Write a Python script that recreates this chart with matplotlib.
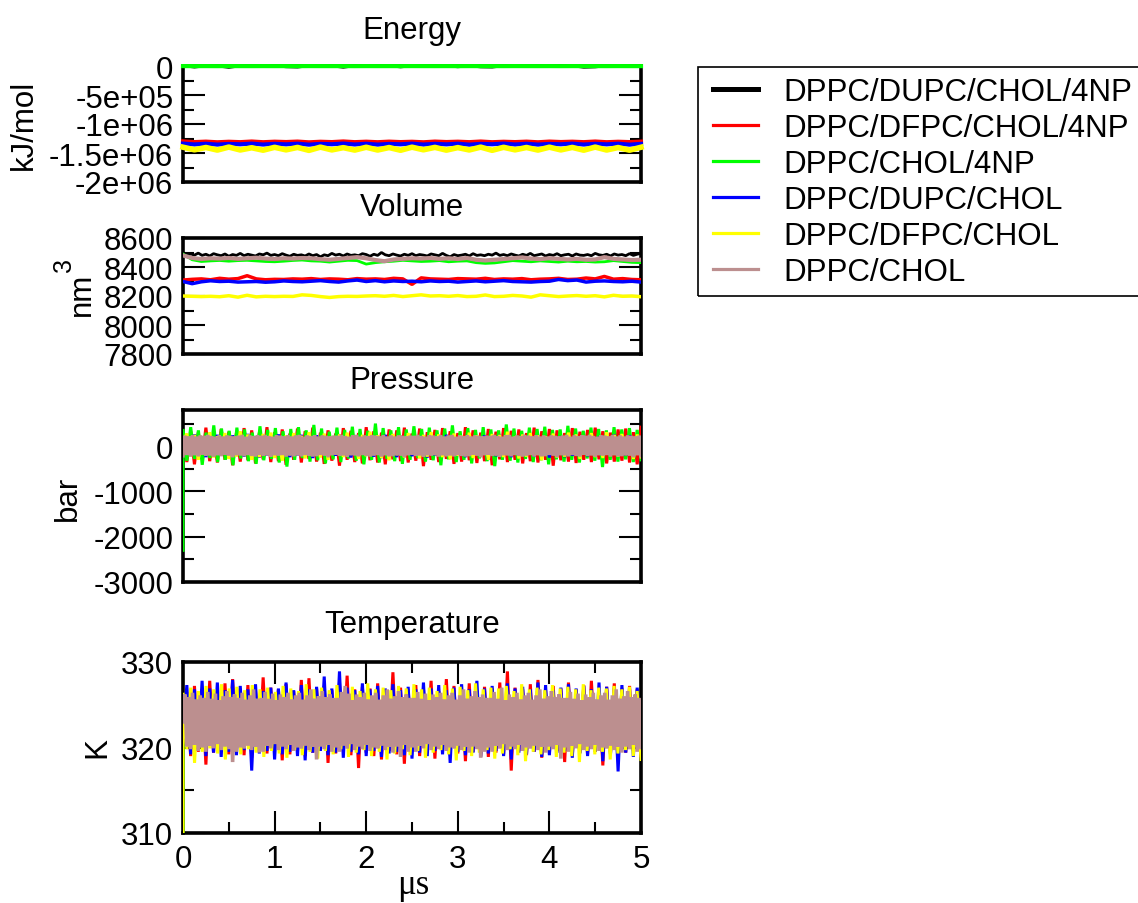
import numpy as np
import matplotlib
matplotlib.use("Agg")
import matplotlib.pyplot as plt
from matplotlib.lines import Line2D
from matplotlib.patches import Rectangle
from matplotlib.ticker import FixedLocator, FixedFormatter, MultipleLocator

plt.rcParams['font.family'] = ['Liberation Sans', 'DejaVu Sans']
plt.rcParams['axes.unicode_minus'] = False

# ---------------- data ----------------
series_names = ["DPPC/DUPC/CHOL/4NP", "DPPC/DFPC/CHOL/4NP", "DPPC/CHOL/4NP",
                "DPPC/DUPC/CHOL", "DPPC/DFPC/CHOL", "DPPC/CHOL"]
series_colors = ["#000000", "#ff0000", "#00ff00", "#0000ff", "#ffff00", "#bc8f8f"]

x_range = [0, 5]
x_ticks = [0, 1, 2, 3, 4, 5]
x_tick_labels = ["0", "1", "2", "3", "4", "5"]
x_label = "μs"

panel_titles = ["Energy", "Volume", "Pressure", "Temperature"]
panel_ylabels = ["kJ/mol", "nm", "bar", "K"]
volume_unit_superscript = "3"

energy_ticks = [0, -5e5, -1e6, -1.5e6, -2e6]
energy_tick_labels = ["0", "-5e+05", "-1e+06", "-1.5e+06", "-2e+06"]
volume_ticks = [7800, 8000, 8200, 8400, 8600]
volume_tick_labels = ["7800", "8000", "8200", "8400", "8600"]
pressure_ticks = [-3000, -2000, -1000, 0]
pressure_tick_labels = ["-3000", "-2000", "-1000", "0"]
temperature_ticks = [310, 320, 330]
temperature_tick_labels = ["310", "320", "330"]

# Energy (kJ/mol)
energy_black = [-2000, -25000, -3000, -5000, -30000, -4000, -2000, -3000, -2000, -20000,
                -25000, -3000, -2000, -4000, -28000, -2000, -3000, -3000, -2000, -22000,
                -3000, -2000, -3000, -2000, -20000, -3000, -22000, -25000, -2000, -3000,
                -2000, -3000, -2000, -3000, -2000, -28000, -22000, -2000, -3000, -2000, -2000]
energy_red = [-1.300e6, -1.312e6, -1.304e6, -1.315e6, -1.306e6, -1.313e6, -1.302e6, -1.314e6,
              -1.305e6, -1.311e6, -1.303e6, -1.316e6, -1.306e6, -1.312e6, -1.301e6, -1.313e6,
              -1.305e6, -1.314e6, -1.304e6, -1.312e6, -1.306e6, -1.315e6, -1.303e6, -1.311e6,
              -1.305e6, -1.313e6, -1.302e6, -1.314e6, -1.306e6, -1.312e6, -1.304e6, -1.315e6,
              -1.303e6, -1.311e6, -1.305e6, -1.313e6, -1.302e6, -1.314e6, -1.306e6, -1.312e6, -1.304e6]
energy_green = [-1500, -2200, -1800, -2500, -1600, -2000, -2300, -1700, -2100, -1900,
                -2400, -1600, -2000, -2200, -1800, -2500, -1700, -2100, -1900, -2300,
                -1600, -2000, -2200, -1800, -2400, -1700, -2100, -1900, -2300, -1600,
                -2000, -2200, -1800, -2500, -1700, -2100, -1900, -2300, -1600, -2000, -2200]
energy_blue = [-1.338e6, -1.352e6, -1.341e6, -1.355e6, -1.344e6, -1.350e6, -1.339e6, -1.354e6,
               -1.342e6, -1.351e6, -1.340e6, -1.356e6, -1.343e6, -1.349e6, -1.338e6, -1.353e6,
               -1.341e6, -1.355e6, -1.344e6, -1.350e6, -1.339e6, -1.354e6, -1.342e6, -1.351e6,
               -1.340e6, -1.356e6, -1.343e6, -1.349e6, -1.338e6, -1.353e6, -1.341e6, -1.355e6,
               -1.344e6, -1.350e6, -1.339e6, -1.354e6, -1.342e6, -1.351e6, -1.340e6, -1.356e6, -1.343e6]
energy_yellow = [-1.400e6, -1.445e6, -1.405e6, -1.450e6, -1.398e6, -1.448e6, -1.410e6, -1.452e6,
                 -1.402e6, -1.446e6, -1.404e6, -1.455e6, -1.399e6, -1.447e6, -1.408e6, -1.450e6,
                 -1.401e6, -1.449e6, -1.406e6, -1.453e6, -1.400e6, -1.445e6, -1.403e6, -1.451e6,
                 -1.407e6, -1.448e6, -1.399e6, -1.454e6, -1.402e6, -1.446e6, -1.405e6, -1.450e6,
                 -1.400e6, -1.447e6, -1.404e6, -1.452e6, -1.398e6, -1.449e6, -1.406e6, -1.451e6, -1.401e6]

# Volume (nm^3)
volume_black = [8495, 8478, 8490, 8482, 8496, 8480, 8488, 8476, 8492, 8484, 8478, 8490, 8474, 8486,
                8480, 8494, 8478, 8488, 8482, 8476, 8490, 8484, 8496, 8480, 8486, 8478, 8492, 8482,
                8474, 8488, 8480, 8484, 8476, 8490, 8478, 8486, 8470, 8484, 8478, 8494, 8482, 8488,
                8476, 8490, 8480, 8484, 8478, 8492, 8486, 8474, 8488, 8480, 8500, 8484, 8478, 8490,
                8482, 8476, 8488, 8480, 8492, 8478, 8486, 8482, 8476, 8490, 8484, 8478, 8494, 8480,
                8470, 8486, 8478, 8482, 8488, 8476, 8492, 8480, 8484, 8478, 8488, 8482, 8496, 8480,
                8486, 8478, 8490, 8482, 8476, 8488, 8480, 8494, 8478, 8484, 8490, 8476, 8486, 8480,
                8492, 8478, 8484, 8488, 8476, 8490, 8482, 8480, 8486, 8478, 8494, 8484, 8480, 8488,
                8476, 8490, 8482, 8486, 8478, 8492, 8480, 8488, 8494]
volume_red = [8310, 8315, 8318, 8312, 8322, 8316, 8320, 8340, 8318, 8312, 8315, 8314, 8318, 8316,
              8320, 8314, 8318, 8316, 8312, 8320, 8316, 8318, 8314, 8322, 8318, 8280, 8325, 8318,
              8316, 8314, 8320, 8318, 8316, 8322, 8314, 8318, 8316, 8320, 8312, 8316, 8318, 8322,
              8314, 8316, 8324, 8318, 8335, 8316, 8320, 8314, 8312]
volume_green = [8490, 8450, 8438, 8442, 8445, 8440, 8444, 8446, 8442, 8438, 8436, 8440, 8445, 8448,
                8442, 8440, 8434, 8440, 8446, 8444, 8420, 8430, 8436, 8440, 8446, 8442, 8438, 8440,
                8444, 8436, 8440, 8442, 8430, 8425, 8428, 8436, 8444, 8440, 8436, 8442, 8438, 8434,
                8440, 8436, 8438, 8434, 8436, 8444, 8438, 8432, 8430]
volume_blue = [8300, 8285, 8298, 8305, 8300, 8302, 8296, 8298, 8300, 8295, 8298, 8304, 8300, 8298,
               8302, 8306, 8300, 8296, 8304, 8310, 8300, 8306, 8298, 8304, 8300, 8302, 8298, 8304,
               8300, 8302, 8296, 8300, 8304, 8298, 8302, 8306, 8300, 8298, 8296, 8300, 8302, 8314,
               8306, 8310, 8296, 8302, 8304, 8300, 8298, 8302, 8296]
volume_yellow = [8200, 8198, 8196, 8198, 8195, 8202, 8192, 8205, 8194, 8198, 8196, 8198, 8197, 8208,
                 8204, 8196, 8190, 8196, 8198, 8197, 8200, 8202, 8198, 8204, 8196, 8202, 8208, 8200,
                 8202, 8198, 8203, 8196, 8198, 8207, 8196, 8198, 8204, 8200, 8192, 8208, 8202, 8196,
                 8200, 8203, 8198, 8202, 8194, 8205, 8198, 8200, 8195]
volume_brown = [8480, 8462, 8455, 8460, 8458, 8462, 8456, 8460, 8464, 8458, 8455, 8460, 8458, 8462,
                8460, 8454, 8450, 8456, 8462, 8468, 8460, 8448, 8440, 8452, 8456, 8460, 8458, 8462,
                8456, 8460, 8455, 8462, 8450, 8445, 8450, 8455, 8460, 8466, 8458, 8454, 8460, 8456,
                8452, 8456, 8450, 8452, 8468, 8456, 8452, 8448, 8450]

# Pressure (bar)
pressure_black = [-100, 150, -140, 160, -130, 140, -150, 130, -160, 150, -140, 160, -130, 150, -150,
                  140, -160, 130, -140, 150, -150, 160, -130, 140, -160, 150, -140, 130, -150, 160,
                  -130, 140, -150, 150, -160, 130, -140, 160, -150, 140, -130, 150, -160, 140, -150,
                  130, -140, 160, -150, 140, -130, 150, -160, 140, -150, 130, -140, 160, -150, 140, -130]
pressure_red = [250, -350, 330, -400, 300, -280, 410, -330, 280, -360, 380, -300, 320, -420, 290,
                -340, 400, -310, 350, -380, 300, -290, 420, -350, 310, -330, 370, -410, 280, -300,
                390, -360, 330, -280, 410, -340, 300, -390, 350, -320, 280, -430, 400, -300, 340,
                -350, 290, -380, 420, -310, 330, -360, 300, -400, 370, -290, 350, -330, 410, -360,
                280, -320, 390, -440, 310, -300, 360, -350, 400, -280, 330, -390, 290, -340, 420,
                -310, 350, -370, 300, -330, 380, -420, 320, -290, 400, -350, 340, -300, 370, -380,
                290, -330, 410, -360, 330, -300, 380, -430, 350, -310, 290, -340, 400, -370, 320,
                -300, 360, -350, 410, -290, 330, -380, 300, -340, 370, -320, 390, -360, 310, -400, 420]
pressure_green = [-2300, 380, -320, 420, -280, 350, -410, 300, -260, 460, -350, 390, -300, 340, -420,
                  410, -270, 370, -330, 300, -390, 440, -310, 360, -280, 400, -360, 330, -450, 380,
                  -300, 420, -260, 350, -340, 470, -310, 390, -380, 320, -290, 410, -350, 360, -270,
                  430, -320, 380, -400, 340, -300, 500, -360, 400, -280, 350, -330, 420, -390, 370,
                  -300, 440, -260, 380, -340, 410, -310, 350, -420, 390, -290, 460, -350, 330, -300,
                  400, -380, 360, -270, 420, -330, 370, -440, 350, -300, 480, -320, 390, -360, 340,
                  -280, 410, -350, 380, -310, 430, -400, 360, -290, 370, -340, 450, -300, 390, -360,
                  340, -270, 410, -320, 380, -460, 350, -300, 420, -340, 370, -290, 400, -350, 360, -300]
pressure_blue = [-150, 220, -200, 260, -180, 200, -240, 230, -170, 250, -210, 190, -260, 240, -190,
                 210, -230, 270, -180, 220, -250, 200, -200, 240, -170, 260, -220, 190, -240, 230,
                 -200, 250, -180, 210, -260, 240, -190, 220, -230, 200, -210, 260, -180, 230, -250,
                 210, -200, 240, -170, 220, -230, 190, -260, 250, -200, 210, -240, 230, -180, 260,
                 -220, 200, -190, 240, -250, 220, -200, 210, -230, 250, -180, 230, -210, 200, -240,
                 260, -200, 220, -190, 240, -300, 210, -220, 250, -180, 230, -240, 200, -210, 260,
                 -190, 220, -230, 240, -200, 210, -250, 230, -180, 220, -240, 200, -210, 250, -190,
                 230, -220, 240, -200, 210, -250, 220, -180, 260, -230, 200, -210, 240, -190, 220, -240]
pressure_yellow = [100, 280, -220, 250, -300, 190, -180, 310, -250, 220, -160, 290, -280, 200, -230,
                   330, -190, 260, -300, 180, -240, 270, -170, 300, -260, 210, -320, 240, -200, 290,
                   -180, 230, -270, 310, -210, 190, -250, 280, -300, 220, -170, 260, -240, 300, -190,
                   210, -280, 250, -220, 320, -180, 240, -260, 200, -310, 270, -200, 230, -250, 290,
                   -170, 220, -270, 250, -230, 310, -190, 260, -240, 200, -290, 280, -210, 230, -180,
                   300, -260, 240, -220, 190, -300, 270, -200, 250, -240, 320, -180, 210, -270, 260,
                   -230, 290, -200, 240, -310, 220, -190, 280, -250, 200, -230, 300, -170, 260, -280,
                   230, -210, 290, -240, 200, -260, 310, -190, 250, -230, 270, -200, 220, -280, 260, -240]
pressure_brown = [-210, 235, -195, 220, -230, 245, -200, 215, -225, 240,
                  -190, 230, -215, 250, -205, 225, -235, 210, -200, 245,
                  -220, 215, -190, 240, -210, 230, -245, 220, -200, 235,
                  -205, 250, -225, 210, -195, 240, -215, 225, -230, 245,
                  -190, 230, -215, 250, -205, 225, -235, 210, -200, 245,
                  -210, 235, -195, 220, -230, 245, -200, 215, -225, 240,
                  -205, 250, -225, 210, -195, 240, -215, 225, -230, 245,
                  -220, 215, -190, 240, -210, 230, -245, 220, -200, 235,
                  -190, 230, -215, 250, -205, 225, -235, 210, -200, 245,
                  -205, 250, -225, 210, -195, 240, -215, 225, -230, 245,
                  -210, 235, -195, 220, -230, 245, -200, 215, -225, 240,
                  -220, 215, -190, 240, -210, 230, -245, 220, -200, 235,
                  -190, 230, -215, 250, -205, 225, -235, 210, -200, 245,
                  -210, 235, -195, 220, -230, 245, -200, 215, -225, 240,
                  -205, 250, -225, 210, -195, 240, -215, 225, -230, 245,
                  -220, 215, -190, 240, -210, 230, -245, 220, -200, 235,
                  -190, 230, -215, 250, -205, 225, -235, 210, -200, 245,
                  -205, 250, -225, 210, -195, 240, -215, 225, -230, 245,
                  -210, 235, -195, 220, -230, 245, -200, 215, -225, 240,
                  -220, 215, -190, 240, -210, 230, -245, 220, -200, 235,
                  -205, 250, -225, 210, -195, 240, -215, 225, -230, 245,
                  -190, 230, -215, 250, -205, 225, -235, 210, -200, 245,
                  -210, 235, -195, 220, -230, 245, -200, 215, -225, 240,
                  -220, 215, -190, 240, -210, 230, -245, 220, -200, 235, -210]

# Temperature (K)
temperature_black = [322.0, 324.8, 321.2, 325.1, 320.9, 324.6, 321.4, 325.3, 321.0, 324.9, 321.3,
                     325.0, 320.8, 324.7, 321.5, 325.2, 321.1, 324.8, 320.9, 325.1, 321.2, 324.6,
                     321.0, 325.3, 321.4, 324.9, 320.8, 325.0, 321.3, 324.7, 321.1, 325.2, 320.9,
                     324.8, 321.5, 325.1, 321.0, 324.6, 321.2, 325.3, 320.8, 324.9, 321.4, 325.0,
                     321.1, 324.7, 320.9, 325.2, 321.3, 324.8, 321.0, 325.1, 321.2, 324.6, 320.9,
                     325.3, 321.4, 324.9, 321.1, 325.0, 321.2]
temperature_red = [320.5, 326.5, 319.0, 327.2, 319.5, 326.8, 318.0, 327.8, 319.4, 326.6, 319.8, 327.5,
                   319.2, 328.0, 319.6, 326.9, 319.1, 327.3, 318.8, 326.7, 319.5, 328.2, 319.3, 327.0,
                   319.7, 326.8, 318.5, 327.4, 319.2, 326.6, 319.6, 327.9, 319.0, 328.1, 319.4, 326.9,
                   319.8, 327.2, 318.2, 326.7, 319.3, 327.6, 319.5, 328.4, 319.1, 326.8, 317.6, 327.1,
                   319.4, 326.9, 319.0, 327.5, 318.6, 326.7, 319.6, 328.8, 319.2, 327.0, 318.1, 326.8,
                   319.5, 327.3, 319.0, 326.9, 319.4, 327.8, 318.7, 326.6, 319.6, 328.0, 319.1, 327.2,
                   319.3, 326.8, 318.4, 327.5, 319.5, 326.7, 319.0, 327.1, 318.9, 326.9, 319.4, 327.6,
                   319.2, 328.9, 317.3, 327.0, 319.6, 326.8, 319.1, 327.4, 319.5, 327.9, 318.8, 326.7,
                   319.3, 327.2, 319.6, 326.9, 318.3, 327.6, 319.0, 326.8, 319.4, 327.3, 319.2, 327.8,
                   319.5, 326.6, 317.9, 327.1, 319.3, 327.5, 319.0, 326.9, 319.4, 327.2, 319.6, 326.8, 319.1]
temperature_green = [310.0, 324.9, 321.1, 325.2, 320.8, 324.7, 321.3, 325.0, 321.0, 324.8, 321.4,
                     325.1, 320.9, 324.6, 321.2, 325.3, 321.0, 324.9, 320.8, 325.0, 321.3, 324.7,
                     321.1, 325.2, 321.4, 324.8, 320.9, 325.1, 321.2, 324.6, 321.0, 325.3, 320.8,
                     324.9, 321.3, 325.0, 321.1, 324.7, 321.4, 325.2, 320.9, 324.8, 321.2, 325.1,
                     321.0, 324.6, 320.8, 325.3, 321.3, 324.9, 321.1, 325.0, 321.4, 324.7, 320.9,
                     325.2, 321.2, 324.8, 321.0, 325.1, 321.3]
temperature_blue = [321.0, 327.3, 319.2, 326.8, 319.6, 327.8, 319.0, 326.9, 319.4, 327.6, 318.9, 326.7,
                    319.5, 327.9, 319.1, 327.2, 319.7, 326.8, 317.3, 327.4, 319.3, 326.6, 319.6, 327.0,
                    318.6, 326.9, 319.2, 327.6, 319.5, 326.7, 319.0, 327.3, 318.5, 326.8, 319.4, 327.1,
                    319.6, 328.3, 319.1, 326.9, 319.4, 328.9, 318.8, 327.0, 319.5, 326.7, 319.2, 327.5,
                    319.0, 326.8, 319.6, 327.2, 318.9, 326.9, 319.3, 327.4, 319.5, 326.7, 319.1, 327.1,
                    318.7, 326.8, 319.4, 327.6, 319.0, 326.9, 319.6, 327.3, 319.2, 326.7, 318.2, 327.0,
                    319.5, 327.4, 319.1, 326.8, 319.4, 327.8, 318.9, 326.9, 319.3, 327.2, 319.6, 326.7,
                    319.0, 327.5, 318.6, 326.9, 319.4, 327.1, 319.2, 326.8, 319.5, 327.6, 318.9, 327.3,
                    319.1, 326.7, 319.4, 327.0, 319.6, 327.4, 318.8, 326.9, 319.3, 327.2, 319.0, 326.8,
                    319.5, 327.6, 318.4, 327.1, 319.2, 326.9, 317.2, 327.3, 319.4, 326.8, 318.9, 327.0, 319.5]
temperature_yellow = [310.0, 326.4, 319.8, 327.0, 318.2, 326.6, 319.5, 327.2, 319.9, 326.8, 319.3,
                      327.4, 318.6, 326.9, 319.7, 327.1, 319.2, 326.7, 319.8, 327.3, 319.4, 326.8,
                      318.9, 327.0, 319.6, 326.5, 319.3, 327.2, 318.8, 326.9, 319.7, 326.6, 319.1,
                      327.4, 319.5, 326.8, 318.7, 327.0, 319.6, 326.7, 319.2, 327.3, 319.8, 326.9,
                      318.9, 327.1, 319.4, 326.6, 319.7, 327.5, 319.0, 326.8, 319.5, 327.0, 318.6,
                      326.7, 319.3, 327.2, 319.8, 326.9, 319.1, 327.4, 319.6, 326.8, 318.8, 327.0,
                      319.4, 326.6, 319.7, 327.3, 319.2, 326.9, 318.5, 327.1, 319.6, 326.7, 319.0,
                      327.5, 319.4, 326.8, 319.7, 327.0, 318.7, 326.9, 319.3, 327.2, 319.8, 326.6,
                      319.1, 327.4, 318.4, 326.8, 319.5, 327.0, 319.2, 326.7, 319.7, 327.3, 318.9,
                      326.9, 319.4, 327.1, 319.0, 326.8, 318.3, 327.4, 319.6, 326.7, 319.2, 327.0,
                      319.5, 326.9, 318.6, 327.2, 319.3, 326.8, 319.7, 327.1, 319.0, 326.6, 318.6]
temperature_brown = [323.0,
                     326.2, 320.1, 325.9, 319.8, 326.4, 320.3, 325.6, 319.6, 326.1, 320.0,
                     325.8, 319.5, 326.5, 320.2, 325.7, 319.9, 326.3, 320.4, 325.5, 319.7,
                     326.0, 320.1, 326.6, 319.8, 325.9, 318.3, 326.2, 319.5, 325.8, 320.0,
                     326.4, 319.9, 325.6, 320.2, 326.1, 319.7, 326.8, 320.1, 325.7, 319.4,
                     325.8, 319.5, 326.5, 320.2, 325.7, 319.9, 326.3, 320.4, 325.5, 319.7,
                     326.2, 320.1, 325.9, 319.8, 326.4, 320.3, 325.6, 319.6, 326.1, 320.0,
                     326.4, 319.9, 325.6, 320.2, 326.1, 319.7, 326.8, 320.1, 325.7, 318.6,
                     326.0, 320.1, 326.6, 319.8, 325.9, 320.3, 326.2, 319.5, 325.8, 320.0,
                     325.8, 319.5, 326.5, 320.2, 327.2, 319.9, 326.3, 320.4, 325.5, 319.7,
                     326.2, 320.1, 325.9, 319.8, 326.4, 320.3, 325.6, 319.6, 326.1, 320.0,
                     326.4, 319.9, 325.6, 320.2, 326.1, 319.7, 326.8, 320.1, 325.7, 319.4,
                     326.0, 320.1, 326.6, 318.9, 325.9, 320.3, 326.2, 319.5, 325.8, 320.0,
                     325.8, 319.5, 326.5, 320.2, 325.7, 319.9, 326.3, 320.4, 325.5, 319.7,
                     326.2, 320.1, 325.9, 319.8, 326.4, 320.3, 325.6, 319.6, 326.1, 320.0,
                     326.4, 319.9, 325.6, 320.2, 326.1, 319.7, 326.8, 320.1, 325.7, 319.4,
                     326.0, 320.1, 326.6, 319.8, 325.9, 318.8, 326.2, 319.5, 325.8, 320.0,
                     325.8, 319.5, 326.5, 320.2, 325.7, 319.9, 327.0, 320.4, 325.5, 319.7,
                     326.2, 320.1, 325.9, 319.8, 326.4, 320.3, 325.6, 319.6, 326.1, 320.0,
                     326.4, 319.9, 325.6, 320.2, 326.1, 319.7, 326.8, 320.1, 325.7, 319.4,
                     326.0, 320.1, 326.6, 319.8, 325.9, 320.3, 326.2, 318.7, 325.8, 320.0,
                     325.8, 319.5, 326.5, 320.2, 325.7, 319.9, 326.3, 320.4, 325.5, 319.7,
                     326.2, 320.1, 325.9, 319.8, 326.4, 320.3, 325.6, 319.6, 326.1, 320.0,
                     326.4, 319.9, 325.6, 320.2, 326.1, 319.7, 326.8, 320.1, 325.7, 319.4,
                     326.0, 320.1, 326.6, 319.8, 325.9, 320.3, 326.2, 319.5, 325.8, 320.0]

energy_data = [energy_black, energy_red, energy_green, energy_blue, energy_yellow, None]
volume_data = [volume_black, volume_red, volume_green, volume_blue, volume_yellow, volume_brown]
pressure_data = [pressure_black, pressure_red, pressure_green, pressure_blue, pressure_yellow, pressure_brown]
temperature_data = [temperature_black, temperature_red, temperature_green, temperature_blue,
                    temperature_yellow, temperature_brown]

# ---------------- figure ----------------
W, H = 1138, 904
fig = plt.figure(figsize=(W / 100, H / 100), dpi=100)
FS = 22.5


def px_rect(left, top, right, bottom):
    return [left / W, 1 - bottom / H, (right - left) / W, (bottom - top) / H]


def time_axis(n, first_is_initial):
    # the first sample of the run sits at t = 0 together with the next one
    if first_is_initial:
        return np.concatenate([[x_range[0]], np.linspace(x_range[0], x_range[1], n - 1)])
    return np.linspace(x_range[0], x_range[1], n)


panels = [
    dict(rect=px_rect(183, 67, 641, 183), data=energy_data, ylim=(-2e6, 0),
         ticks=energy_ticks, labels=energy_tick_labels, minor=2.5e5, lw=[1.5, 3, 3, 3, 4, 3],
         title_y=39, ylab_xy=(24, 125), initial=[]),
    dict(rect=px_rect(183, 239, 641, 355), data=volume_data, ylim=(7800, 8600),
         ticks=volume_ticks, labels=volume_tick_labels, minor=100, lw=[2.0, 2.5, 2.0, 2.5, 2.5, 3.0],
         title_y=216, ylab_xy=(82, 294), initial=[]),
    dict(rect=px_rect(183, 411, 641, 583), data=pressure_data, ylim=(-3000, 800),
         ticks=pressure_ticks, labels=pressure_tick_labels, minor=500, lw=[2.2, 2.2, 2.2, 2.2, 2.2, 2.6],
         title_y=389, ylab_xy=(68, 498), initial=[2]),
    dict(rect=px_rect(183, 663, 641, 834), data=temperature_data, ylim=(310, 330),
         ticks=temperature_ticks, labels=temperature_tick_labels, minor=5, lw=[2.2, 2.2, 2.2, 2.2, 2.2, 2.6],
         title_y=633, ylab_xy=(97, 748), initial=[2, 4]),
]

for i, p in enumerate(panels):
    ax = fig.add_axes(p['rect'])
    for j, ys in enumerate(p['data']):
        if ys is None:
            continue
        xs = time_axis(len(ys), j in p['initial'])
        ax.plot(xs, ys, color=series_colors[j], lw=p['lw'][j], zorder=3 + j * 0.01,
                solid_joinstyle='bevel', clip_on=(i != 0))
    ax.set_xlim(*x_range)
    ax.set_ylim(*p['ylim'])
    ax.yaxis.set_major_locator(FixedLocator(p['ticks']))
    ax.yaxis.set_major_formatter(FixedFormatter(p['labels']))
    ax.yaxis.set_minor_locator(MultipleLocator(p['minor']))
    for s in ax.spines.values():
        s.set_linewidth(2.6)
    ax.tick_params(axis='y', which='both', direction='in', left=True, right=True,
                   labelsize=FS, pad=7, width=1.5)
    ax.tick_params(axis='y', which='major', length=16)
    ax.tick_params(axis='y', which='minor', length=8)
    if i < 3:
        ax.tick_params(axis='x', which='both', bottom=False, top=False, labelbottom=False)
    else:
        ax.xaxis.set_major_locator(FixedLocator(x_ticks))
        ax.xaxis.set_major_formatter(FixedFormatter(x_tick_labels))
        ax.xaxis.set_minor_locator(MultipleLocator(0.5))
        ax.tick_params(axis='x', which='both', direction='in', bottom=True, top=True,
                       labelsize=FS, pad=8, width=1.5)
        ax.tick_params(axis='x', which='major', length=16)
        ax.tick_params(axis='x', which='minor', length=8)
    fig.text(412 / W, 1 - p['title_y'] / H, panel_titles[i], ha='center', va='baseline', fontsize=FS)
    lx, ly = p['ylab_xy']
    fig.text(lx / W, 1 - ly / H, panel_ylabels[i], ha='center', va='center', rotation=90, fontsize=FS)

# superscript of the volume unit (raised, Grace style)
fig.text(64 / W, 1 - 265 / H, volume_unit_superscript, ha='center', va='center', rotation=90,
         fontsize=18)

fig.text(413 / W, 1 - 886 / H, x_label, ha='center', va='center', fontsize=25,
         family=['Liberation Serif', 'DejaVu Serif'])

# legend
handles = [Line2D([0], [0], color=c, lw=(3.6 if k == 0 else 2.3)) for k, c in enumerate(series_colors)]
leg = fig.legend(handles, series_names, loc='upper left',
                 bbox_to_anchor=(713 / W, 1 - 78 / H), bbox_transform=fig.transFigure,
                 frameon=False, fontsize=FS, borderpad=0, borderaxespad=0,
                 handlelength=1.44, handletextpad=0.8, labelspacing=0.19)
fig.patches.append(Rectangle((698 / W, 1 - 297 / H), (1145 - 698) / W, (297 - 68) / H,
                             transform=fig.transFigure, fill=False, edgecolor='black',
                             linewidth=1.2, figure=fig))

fig.savefig("out.png", dpi=100)
